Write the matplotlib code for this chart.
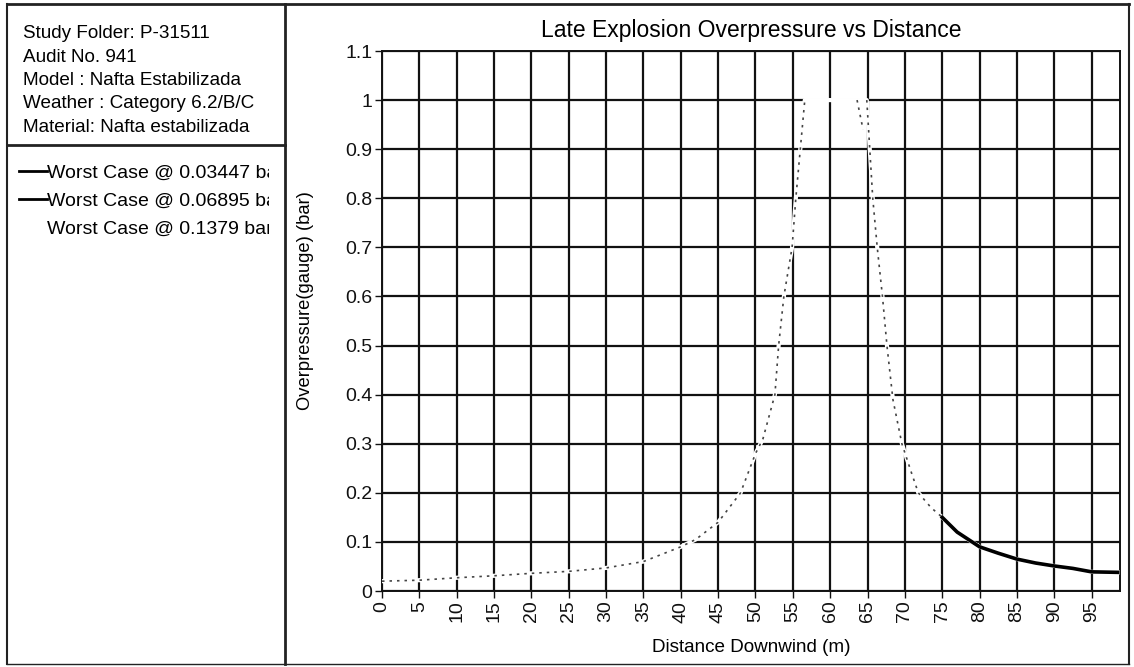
import matplotlib
matplotlib.use("Agg")
import matplotlib.pyplot as plt
import numpy as np
from matplotlib.lines import Line2D
from matplotlib.transforms import Bbox

plt.rcParams['font.family'] = ['Liberation Sans', 'DejaVu Sans']

# header text of the left panel
info_lines = [
    "Study Folder: P-31511",
    "Audit No. 941",
    "Model : Nafta Estabilizada",
    "Weather : Category 6.2/B/C",
    "Material: Nafta estabilizada",
]
series_labels = [
    "Worst Case @ 0.03447 bar",
    "Worst Case @ 0.06895 bar",
    "Worst Case @ 0.1379 bar",
]

# rising branch (m, bar)
left_x = [0, 5, 10, 15, 20, 25, 30, 35, 38, 40, 42, 45, 48, 50, 51, 52.6, 53.1, 53.8, 54.9, 55.4, 56.0, 56.6]
left_y = [0.02, 0.022, 0.027, 0.031, 0.036, 0.04, 0.047, 0.06, 0.078, 0.09, 0.105, 0.14, 0.2, 0.28, 0.31,
          0.4, 0.5, 0.6, 0.7, 0.8, 0.9, 1.0]
# capped top
top_x = [56.6, 60, 64.9]
top_y = [1.0, 1.0, 1.0]
# falling branch
right_x = [64.9, 65.7, 66.3, 67.0, 67.6, 68.4, 69.6, 70.9, 71.8, 73.5, 75.0]
right_y = [1.0, 0.8, 0.7, 0.6, 0.5, 0.39, 0.3, 0.24, 0.2, 0.17, 0.15]
# short stroke near the top
stroke_x = [63.6, 64.4]
stroke_y = [1.0, 0.94]
# far field
far_x = [75.0, 77, 80, 82.5, 85, 87.5, 90, 92.5, 95, 98.5]
far_y = [0.15, 0.12, 0.09, 0.077, 0.065, 0.057, 0.051, 0.046, 0.039, 0.038]

fig = plt.figure(figsize=(11.34, 6.67), dpi=100)
W, H = 1134, 667

ax = fig.add_axes([382 / W, 1 - 591 / H, 738 / W, 540 / H])

ax.set_xlim(0, 98.8)
ax.set_ylim(0, 1.1)
ax.set_xticks(np.arange(0, 100, 5))
ax.set_yticks(np.arange(0, 1.15, 0.1))
ax.set_yticklabels(["0", "0.1", "0.2", "0.3", "0.4", "0.5", "0.6", "0.7", "0.8", "0.9", "1", "1.1"])
ax.tick_params(axis='x', labelrotation=90, labelsize=14, length=5, width=1, pad=2, colors='#111111')
ax.tick_params(axis='y', labelsize=14, length=5, width=1, pad=2, colors='#111111')
ax.grid(True, color='#111111', linewidth=1.6)
ax.set_axisbelow(True)
for sp in ax.spines.values():
    sp.set_linewidth(1.4)
    sp.set_color('#111111')

# white trace erasing the grid under the curve
all_x = left_x + top_x + right_x + far_x
all_y = left_y + top_y + right_y + far_y
l3, = ax.plot(all_x, all_y, color='white', linewidth=3, label=series_labels[2], zorder=3)
# dotted near-field trace
near_x = left_x + [np.nan] + stroke_x + [np.nan] + right_x
near_y = left_y + [np.nan] + stroke_y + [np.nan] + right_y
l2, = ax.plot(near_x, near_y, color='#444444', linewidth=1.2, linestyle=(0, (1.5, 3)),
              label=series_labels[1], zorder=4)
l1, = ax.plot(far_x, far_y, color='black', linewidth=2.6, label=series_labels[0], zorder=5)

ax.set_title("Late Explosion Overpressure vs Distance", fontsize=16.5, pad=10)
ax.set_xlabel("Distance Downwind (m)", fontsize=13.6, labelpad=12)
ax.set_ylabel("Overpressure(gauge) (bar)", fontsize=13.2)
ax.yaxis.set_label_coords(-68 / 738, (591 - 301) / 540)

# left panel text
for i, s in enumerate(info_lines):
    fig.text(23 / W, 1 - (34 + i * 23.3) / H, s, fontsize=13.6, va='center', ha='left')

proxy1 = Line2D([], [], color='black', linewidth=2)
proxy2 = Line2D([], [], color='black', linewidth=2)
leg = fig.legend([proxy1, proxy2, l3], series_labels, loc='upper left',
                 bbox_to_anchor=(11 / W, 1 - 156 / H), frameon=False, fontsize=14,
                 handlelength=1.45, handletextpad=0.0, labelspacing=0.55, borderaxespad=0)
clip = Bbox.from_extents(0, 0, 269, H)
for t in leg.get_texts():
    t.set_clip_box(clip)
    t.set_clip_on(True)

# panel frame
def fline(x0, y0, x1, y1, lw=1.5):
    fig.add_artist(Line2D([x0 / W, x1 / W], [1 - y0 / H, 1 - y1 / H],
                          transform=fig.transFigure, color='#222222', linewidth=lw))

fline(7, 4, 1129, 4, 2)
fline(7, 4, 7, 664, 1.5)
fline(1129, 4, 1129, 664, 1.5)
fline(7, 664, 1129, 664, 1)
fline(285, 4, 285, 664, 2)
fline(7, 145, 285, 145, 2)

fig.savefig("out.png", dpi=100)
